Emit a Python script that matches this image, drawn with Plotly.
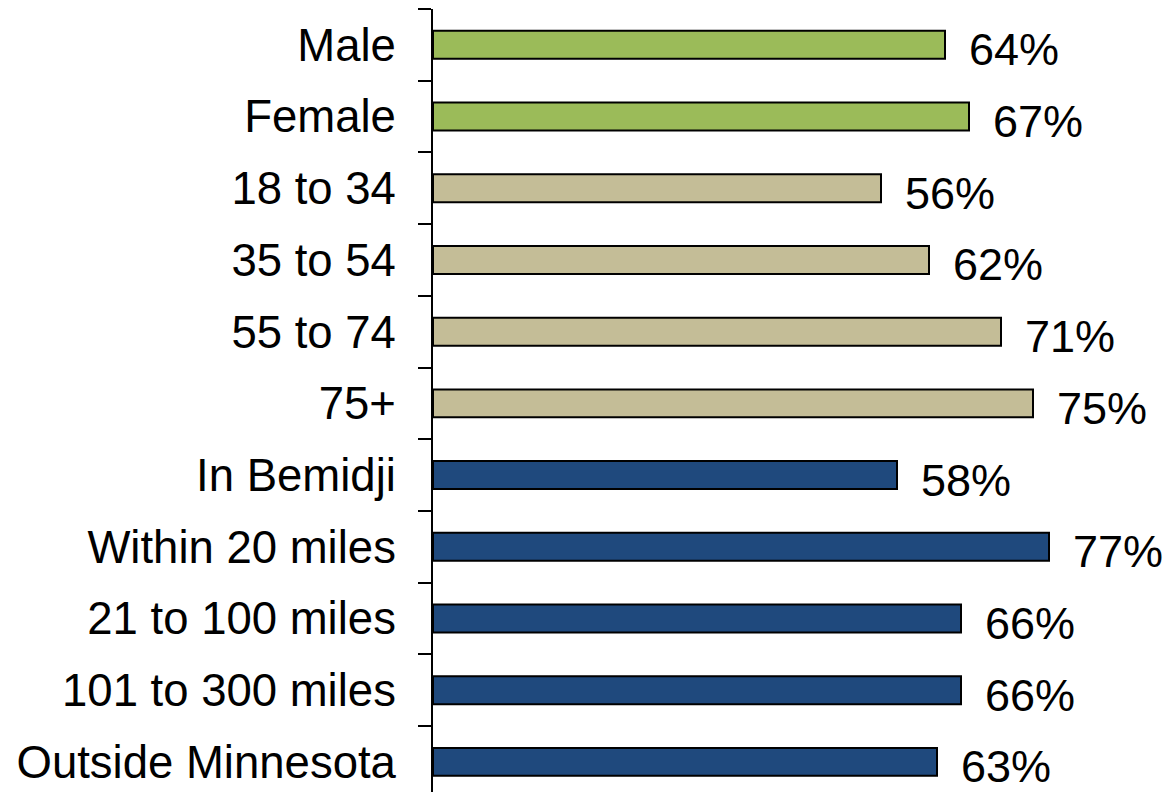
import plotly.graph_objects as go

categories = ["Male", "Female", "18 to 34", "35 to 54", "55 to 74", "75+",
              "In Bemidji", "Within 20 miles", "21 to 100 miles",
              "101 to 300 miles", "Outside Minnesota"]
values = [64, 67, 56, 62, 71, 75, 58, 77, 66, 66, 63]
groups = ["gender", "gender", "age", "age", "age", "age",
          "distance", "distance", "distance", "distance", "distance"]

green = "#9BBB59"
tan = "#C4BD97"
navy = "#1F497D"
group_colors = {"gender": green, "age": tan, "distance": navy}
colors = [group_colors[g] for g in groups]

fig = go.Figure()

fig.add_trace(go.Bar(
    x=values, y=categories,
    orientation='h',
    width=0.39,
    marker=dict(color=colors, line=dict(color='black', width=2)),
    hoverinfo='skip'
))

for c, v in zip(categories, values):
    fig.add_annotation(
        x=v, y=c, text=f"{v}%",
        showarrow=False, xanchor='left',
        xshift=22, yshift=-5,
        font=dict(size=45, color='black')
    )

# page body adds 8px margin, so figure is 8px smaller and margins shifted
fig.update_layout(
    width=1167, height=784,
    margin=dict(l=425, r=0, t=1, b=0),
    plot_bgcolor='white', paper_bgcolor='white',
    showlegend=False,
    font=dict(family="Liberation Sans, Arial, sans-serif", size=46, color='black'),
    xaxis=dict(range=[0, 92.75], visible=False),
    yaxis=dict(
        type='category',
        range=[10.42, -0.5],
        showline=True, linecolor='black', linewidth=2,
        ticks='outside', tickson='boundaries', ticklen=13,
        tickcolor='black', tickwidth=2,
        ticklabelstandoff=26,
        showgrid=False, zeroline=False,
        tickfont=dict(size=45.5)
    )
)

fig.write_html("out.html")
